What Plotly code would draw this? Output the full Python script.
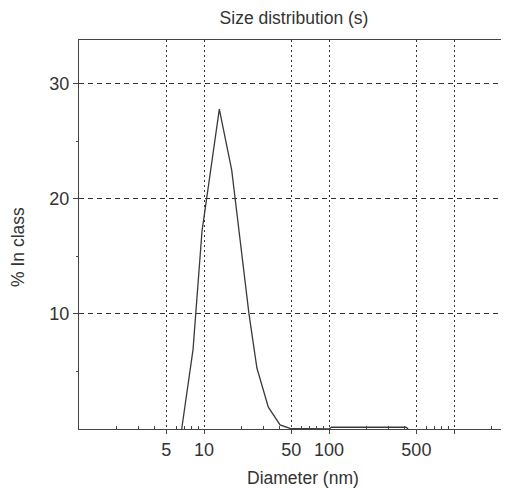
import plotly.graph_objects as go

# Data
diameter_nm = [6.63, 8.17, 9.64, 13.26, 16.66, 22.9, 26.5, 32.7, 40.6, 48.8, 100, 105, 413, 430]
percent_in_class = [0, 6.9, 17.2, 27.8, 22.5, 10.0, 5.3, 1.9, 0.35, 0.05, 0, 0.15, 0.15, 0]

x_tickvals = [5, 10, 50, 100, 500, 1000]
x_ticktext = ["5", "10", "50", "100", "500", ""]
x_minor = [2, 3, 4, 6, 7, 8, 9, 20, 30, 40, 60, 70, 80, 90, 200, 300, 400, 600, 700, 800, 900, 2000]
y_tickvals = [10, 20, 30]
y_minor = [5, 15, 25]

FONT = "Liberation Sans, Arial, sans-serif"
TXT = "#333333"
AX = "#444444"

# the page body adds an 8px offset, so the figure is 8px smaller
W, H = 501, 481

fig = go.Figure()
fig.add_trace(go.Scatter(
    x=diameter_nm, y=percent_in_class, mode="lines",
    line=dict(color="#3a3a3a", width=1.3), showlegend=False,
))

fig.update_layout(
    width=W, height=H,
    margin=dict(l=71, r=0, t=32, b=60),
    paper_bgcolor="white", plot_bgcolor="white",
    font=dict(family=FONT, size=18, color=TXT),
    title=dict(text="Size distribution (s)", x=(294 - 8) / W, xanchor="center",
               y=1 - 10 / H, yanchor="middle", yref="container",
               font=dict(family=FONT, size=17.5, color=TXT)),
    xaxis=dict(
        type="log", range=[0, 3.44],
        tickmode="array", tickvals=x_tickvals, ticktext=x_ticktext,
        ticks="outside", ticklen=4, tickcolor=AX,
        showline=True, linecolor=AX, linewidth=1, mirror=True,
        showgrid=True, gridcolor="#333333", griddash="2px,3px", gridwidth=1,
        zeroline=False,
        tickfont=dict(size=18, color=TXT),
        minor=dict(tickmode="array", tickvals=x_minor, ticks="inside",
                   ticklen=3, tickcolor=AX, showgrid=False),
    ),
    yaxis=dict(
        range=[0, 33.8],
        tickmode="array", tickvals=y_tickvals,
        ticks="outside", ticklen=5, tickcolor=AX,
        showline=True, linecolor=AX, linewidth=1,
        showgrid=True, gridcolor="#333333", griddash="5px,4px", gridwidth=1,
        zeroline=False,
        tickfont=dict(size=18, color=TXT),
        minor=dict(tickmode="array", tickvals=y_minor, ticks="outside",
                   ticklen=2, tickcolor=AX, showgrid=False),
    ),
    annotations=[
        dict(text="Diameter (nm)", xref="paper", yref="paper",
             x=(303 - 79) / 430, y=(429 - 478) / 389,
             xanchor="center", yanchor="middle", showarrow=False,
             font=dict(family=FONT, size=17.5, color=TXT)),
        dict(text="% In class", xref="paper", yref="paper",
             x=(18 - 79) / 430, y=(429 - 247) / 389, textangle=-90,
             xanchor="center", yanchor="middle", showarrow=False,
             font=dict(family=FONT, size=17.5, color=TXT)),
    ],
)

fig.write_html("out.html")
